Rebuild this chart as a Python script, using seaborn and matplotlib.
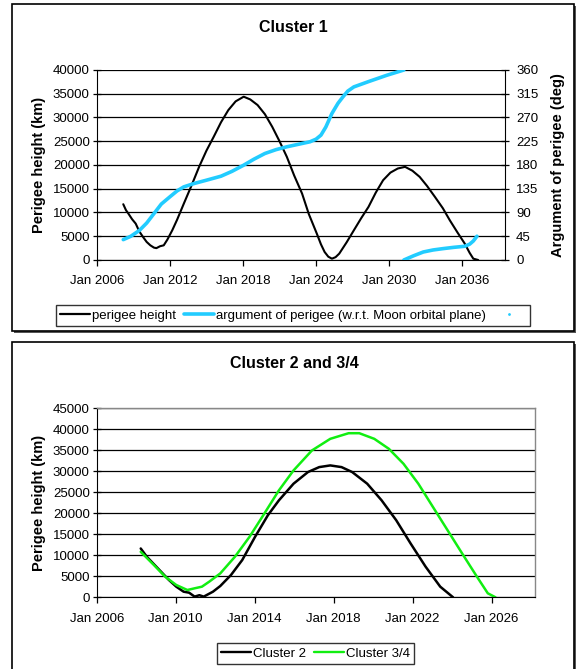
import numpy as np
import pandas as pd
import seaborn as sns
import matplotlib.pyplot as plt
from matplotlib.patches import Rectangle
from matplotlib.lines import Line2D

# ---- data (decimal years) ----
c1_year = [2008.18, 2008.4, 2008.6, 2008.9, 2009.2, 2009.5, 2009.8, 2010.1, 2010.4, 2010.7,
           2010.9, 2011.2, 2011.5, 2011.8, 2012.2, 2012.6, 2013.15, 2013.8, 2014.4, 2015.0,
           2015.6, 2016.2, 2016.8, 2017.4, 2018.06, 2018.6, 2019.2, 2019.8, 2020.4, 2021.0,
           2021.6, 2022.2, 2022.85, 2023.4, 2024.06, 2024.4, 2024.7, 2025.0, 2025.3, 2025.6,
           2025.9, 2026.5, 2027.1, 2027.7, 2028.3, 2028.9, 2029.5, 2030.1, 2030.7, 2031.3,
           2031.9, 2032.5, 2033.1, 2033.75, 2034.4, 2034.97, 2035.6, 2036.2, 2036.6, 2036.9, 2037.3]
c1_height = [11740, 10500, 9770, 8600, 7660, 6000, 4850, 3800, 3090, 2600,
             2500, 2900, 3090, 4300, 6260, 8500, 11880, 15800, 19600, 23000,
             25940, 29000, 31560, 33400, 34380, 33800, 32620, 30700, 28050, 25000,
             21720, 17800, 13990, 9700, 5550, 3300, 1690, 700, 280, 600,
             1340, 3700, 6260, 8800, 11180, 14200, 16800, 18400, 19260, 19610,
             18800, 17500, 15600, 13290, 10900, 8370, 5800, 3440, 1500, 280, 0]

arg_year_a = [2008.18, 2008.8, 2009.5, 2010.1, 2010.7, 2011.3, 2012.0, 2012.6, 2013.15, 2014.0,
              2014.97, 2016.2, 2017.1, 2018.06, 2018.9, 2019.8, 2020.7, 2021.6, 2022.5, 2023.5,
              2024.0, 2024.4, 2024.8, 2025.3, 2025.8, 2026.2, 2026.6, 2027.1, 2028.3, 2029.8, 2031.2]
arg_deg_a = [38.6, 45, 56, 70, 88, 106, 119.6, 131, 138.6, 145,
             151, 158.8, 168, 179.7, 191, 201.8, 209, 214.5, 219, 224,
             229, 236.6, 252, 277.7, 297, 309, 320, 328, 338, 350, 360]
arg_year_b = [2031.2, 2032.0, 2032.8, 2033.6, 2034.4, 2035.3, 2036.2, 2036.6, 2036.9, 2037.2]
arg_deg_b = [0, 8, 15.2, 19, 21.5, 24, 26, 30, 36, 45]

c2_year = [2008.23, 2008.54, 2009.1, 2009.66, 2010.03, 2010.4, 2010.68, 2010.96, 2011.2, 2011.42,
           2011.89, 2012.26, 2012.8, 2013.37, 2014.02, 2014.67, 2015.23, 2015.97, 2016.7, 2017.27,
           2017.83, 2018.4, 2018.94, 2019.7, 2020.43, 2021.17, 2021.9, 2022.66, 2023.4, 2024.05]
c2_height = [11620, 9650, 6880, 4110, 2530, 1340, 1100, 160, 500, 160,
             1340, 2690, 5300, 8860, 14390, 19530, 23090, 27050, 29820, 31000,
             31400, 31000, 29820, 27050, 23090, 18350, 12810, 7280, 2530, 0]

c34_year = [2008.23, 2008.9, 2009.47, 2010.03, 2010.59, 2010.96, 2011.33, 2011.7, 2012.26, 2013.0,
            2013.74, 2014.49, 2015.23, 2015.97, 2016.9, 2017.83, 2018.76, 2019.3, 2020.06, 2020.8,
            2021.54, 2022.29, 2023.03, 2023.77, 2024.51, 2025.26, 2025.81, 2026.2]
c34_height = [10830, 7670, 4900, 2930, 1740, 2140, 2530, 3720, 5690, 9650,
              14390, 19930, 25470, 30210, 34960, 37730, 39070, 39070, 37730, 35350,
              31790, 27050, 21510, 15980, 10440, 4900, 950, 0]

top_ticks = [2006, 2012, 2018, 2024, 2030, 2036]
bot_ticks = [2006, 2010, 2014, 2018, 2022, 2026]

sns.set_style("white")
plt.rcParams['font.family'] = ['Liberation Sans', 'DejaVu Sans']
plt.rcParams['font.size'] = 9.5
plt.rcParams['text.color'] = 'black'
plt.rcParams['axes.labelcolor'] = 'black'

black = '#000000'
cyan = '#22ccff'
green = '#11ee11'

fig = plt.figure(figsize=(5.76, 6.69), dpi=100)
W, H = 576, 669


def fx(px):
    return px / W


def fy(py):
    return 1 - py / H


# panel frames with a little shadow like the Excel chart area
for top, bottom in [(4, 331), (342, 672)]:
    fig.patches.append(Rectangle((fx(14), fy(bottom + 2)), fx(575 - 12), (bottom - top) / H,
                                 transform=fig.transFigure, facecolor='#555555',
                                 edgecolor='none', zorder=-3))
    fig.patches.append(Rectangle((fx(12), fy(bottom)), fx(575 - 12 - 1), (bottom - top) / H,
                                 transform=fig.transFigure, facecolor='white',
                                 edgecolor='black', linewidth=1.2, zorder=-2))


def style_axis(ax, ymax, ystep):
    ax.set_ylim(0, ymax)
    ax.set_yticks(np.arange(0, ymax + 1, ystep))
    ax.set_yticklabels([str(int(v)) for v in np.arange(0, ymax + 1, ystep)])
    ax.yaxis.grid(True, color='black', linewidth=0.9)
    ax.xaxis.grid(False)
    ax.set_axisbelow(True)
    ax.tick_params(axis='y', direction='inout', length=6, width=0.9, left=True, pad=2,
                   labelsize=9.5, colors='black')
    ax.tick_params(axis='x', direction='out', length=4, width=0.9, bottom=True, pad=7,
                   labelsize=9.5, colors='black')
    ax.spines['left'].set_color('black')
    ax.spines['bottom'].set_color('black')
    ax.set_xlabel('')


# ---- Cluster 1 ----
ax1 = fig.add_axes([fx(96.7), fy(260), fx(505 - 96.7), 190 / H])
ax1.set_facecolor('none')
df1 = pd.DataFrame({'year': c1_year, 'height': c1_height})
sns.lineplot(data=df1, x='year', y='height', ax=ax1, color=black, linewidth=1.5,
             sort=False, estimator=None)
ax1.set_xlim(2006, 2039.5)
ax1.set_xticks(top_ticks)
ax1.set_xticklabels(['Jan %d' % t for t in top_ticks])
style_axis(ax1, 40000, 5000)
ax1.set_ylabel('Perigee height (km)', fontweight='bold', fontsize=10.5, labelpad=5)
for s in ['top', 'right']:
    ax1.spines[s].set_visible(False)

ax1r = ax1.twinx()
dfa = pd.DataFrame({'year': arg_year_a, 'deg': arg_deg_a})
dfb = pd.DataFrame({'year': arg_year_b, 'deg': arg_deg_b})
sns.lineplot(data=dfa, x='year', y='deg', ax=ax1r, color=cyan, linewidth=2.6,
             sort=False, estimator=None)
sns.lineplot(data=dfb, x='year', y='deg', ax=ax1r, color=cyan, linewidth=2.6,
             sort=False, estimator=None)
ax1r.set_ylim(0, 360)
ax1r.set_yticks(np.arange(0, 361, 45))
ax1r.tick_params(axis='y', direction='inout', length=6, width=0.9, right=True, pad=5,
                 labelsize=9.5, colors='black')
ax1r.set_ylabel('Argument of perigee (deg)', fontweight='bold', fontsize=10.5, labelpad=9)
ax1r.spines['right'].set_color('black')
for s in ['top', 'left', 'bottom']:
    ax1r.spines[s].set_visible(False)
ax1r.set_xlim(2006, 2039.5)

fig.text(fx(293), fy(27), 'Cluster 1', ha='center', va='center', fontweight='bold', fontsize=11.5)

h1 = [Line2D([], [], color=black, linewidth=1.6),
      Line2D([], [], color=cyan, linewidth=2.6),
      Line2D([], [], color=cyan, marker='.', markersize=2, linestyle='none')]
leg1 = fig.legend(h1, ['perigee height', 'argument of perigee (w.r.t. Moon orbital plane)', ''],
                  loc='center', bbox_to_anchor=(fx(293), fy(315.5)), ncol=3, frameon=True,
                  fancybox=False, edgecolor='black', handlelength=2.3, handletextpad=0.15,
                  columnspacing=0.6, borderpad=0.3, fontsize=9.5)
leg1.get_frame().set_linewidth(1.0)

# ---- Cluster 2 and 3/4 ----
ax2 = fig.add_axes([fx(96.7), fy(597.3), fx(535 - 96.7), 189 / H])
ax2.set_facecolor('none')
df2 = pd.DataFrame({'year': c2_year + c34_year,
                    'height': c2_height + c34_height,
                    'cluster': ['Cluster 2'] * len(c2_year) + ['Cluster 3/4'] * len(c34_year)})
sns.lineplot(data=df2, x='year', y='height', hue='cluster', ax=ax2,
             palette={'Cluster 2': black, 'Cluster 3/4': green}, linewidth=1.8,
             sort=False, estimator=None, legend=False)
ax2.set_xlim(2006, 2028.2)
ax2.set_xticks(bot_ticks)
ax2.set_xticklabels(['Jan %d' % t for t in bot_ticks])
style_axis(ax2, 45000, 5000)
ax2.set_ylabel('Perigee height (km)', fontweight='bold', fontsize=10.5, labelpad=5)
for s in ['top', 'right']:
    ax2.spines[s].set_color('#888888')
    ax2.spines[s].set_linewidth(1.0)

fig.text(fx(294), fy(363), 'Cluster 2 and 3/4', ha='center', va='center',
         fontweight='bold', fontsize=11.5)

h2 = [Line2D([], [], color=black, linewidth=1.7),
      Line2D([], [], color=green, linewidth=1.7)]
leg2 = fig.legend(h2, ['Cluster 2', 'Cluster 3/4'], loc='center',
                  bbox_to_anchor=(fx(315.5), fy(653.5)), ncol=2, frameon=True,
                  fancybox=False, edgecolor='black', handlelength=2.3, handletextpad=0.15,
                  columnspacing=0.6, borderpad=0.3, fontsize=9.5)
leg2.get_frame().set_linewidth(1.0)

fig.savefig('out.png', dpi=100)
